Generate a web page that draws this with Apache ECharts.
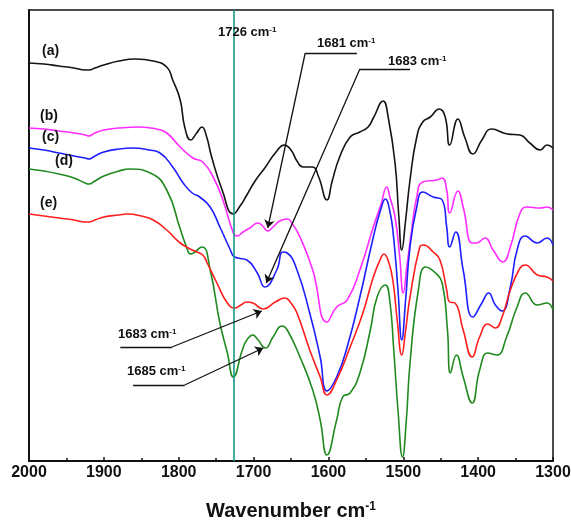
<!DOCTYPE html>
<html lang="en">
<head>
<meta charset="UTF-8">
<title>FTIR spectra</title>
<script src="https://cdn.jsdelivr.net/npm/echarts@6/dist/echarts.min.js"></script>
<style>
  body { margin: 0; background: #fff; }
  #chart { width: 571px; height: 523px; }
</style>
</head>
<body>
<div id="chart"></div>
<script>
// spectra: [wavenumber cm-1, transmittance (a.u., offset)]
var specA = [[2000,398],[1980,397],[1960,395],[1940,393],[1925,391],[1920,391],[1912,393],[1900,396],[1880,400],[1858,402],[1834,400],[1816,394],[1808,381],[1798,361],[1792,334],[1784,321],[1776,328],[1769,334],[1763,325],[1756,304],[1742,271],[1727,247],[1718,255],[1709,266],[1698,280],[1685,293],[1670,309],[1659,316],[1650,311],[1642,300],[1634,294],[1627,294],[1621,294],[1613,284],[1602,261],[1595,280],[1585,304],[1571,324],[1558,329],[1547,334],[1540,343],[1527,360],[1520,343],[1511,298],[1506,245],[1502,211],[1497,240],[1491,281],[1482,324],[1474,339],[1464,344],[1452,352],[1444,344],[1438,316],[1427,342],[1418,324],[1407,307],[1395,321],[1382,332],[1361,327],[1344,326],[1331,318],[1317,311],[1308,316],[1300,313]];
var specB = [[2000,333],[1980,332],[1960,330],[1940,328],[1925,326],[1920,325],[1912,328],[1900,331],[1880,333],[1852,334],[1830,332],[1816,328],[1798,314],[1781,303],[1768,299],[1754,284],[1741,261],[1727,228],[1722,225],[1714,229],[1705,233],[1694,238],[1688,235],[1681,230],[1674,234],[1665,240],[1655,242],[1648,237],[1638,224],[1621,191],[1602,139],[1589,154],[1575,161],[1558,191],[1540,234],[1530,256],[1522,274],[1518,264],[1511,244],[1505,206],[1500,168],[1495,196],[1490,224],[1482,264],[1474,279],[1455,281],[1448,283],[1442,271],[1438,248],[1427,270],[1420,254],[1408,218],[1402,218],[1391,223],[1380,211],[1367,199],[1357,214],[1344,248],[1335,254],[1317,253],[1308,254],[1300,251]];
var specC = [[2000,313],[1980,311],[1960,308],[1940,305],[1925,303],[1920,302],[1912,305],[1900,309],[1880,312],[1861,313],[1840,311],[1825,308],[1808,294],[1794,278],[1782,268],[1772,264],[1758,254],[1745,234],[1731,211],[1727,205],[1721,203],[1709,201],[1695,188],[1685,174],[1669,191],[1661,209],[1655,208],[1642,191],[1625,148],[1611,104],[1602,70],[1589,84],[1575,114],[1558,164],[1540,224],[1530,252],[1524,262],[1518,250],[1513,224],[1507,170],[1502,121],[1497,160],[1491,214],[1482,254],[1474,269],[1460,264],[1448,261],[1442,234],[1438,214],[1430,229],[1420,191],[1407,144],[1395,158],[1386,168],[1377,156],[1368,150],[1357,174],[1348,211],[1337,225],[1321,218],[1308,223],[1300,216]];
var specD = [[2000,292],[1980,290],[1960,287],[1940,283],[1925,278],[1920,277],[1912,280],[1900,285],[1880,290],[1865,292],[1838,288],[1816,271],[1798,232],[1790,215],[1784,207],[1769,214],[1758,191],[1745,138],[1735,108],[1727,84],[1715,111],[1709,121],[1701,126],[1695,122],[1684,113],[1674,124],[1662,135],[1655,131],[1638,104],[1621,71],[1611,41],[1602,6],[1589,41],[1581,64],[1571,68],[1558,88],[1544,131],[1535,164],[1524,176],[1518,160],[1513,114],[1507,50],[1501,4],[1496,40],[1491,98],[1480,170],[1470,194],[1457,188],[1448,178],[1441,131],[1437,88],[1429,106],[1420,84],[1408,58],[1398,91],[1387,108],[1375,106],[1362,124],[1348,154],[1337,168],[1321,156],[1308,158],[1300,151]];
var specE = [[2000,247],[1980,245],[1960,243],[1940,241],[1925,239],[1920,239],[1912,241],[1900,244],[1880,246],[1869,247],[1850,245],[1834,241],[1816,231],[1798,218],[1782,211],[1768,206],[1762,198],[1749,178],[1735,158],[1725,153],[1717,156],[1709,159],[1701,158],[1687,152],[1671,159],[1658,163],[1650,158],[1642,148],[1625,111],[1611,84],[1602,66],[1589,81],[1571,114],[1554,148],[1540,184],[1530,203],[1526,207],[1520,200],[1514,181],[1508,140],[1502,106],[1497,130],[1491,164],[1478,214],[1473,216],[1460,209],[1451,201],[1442,171],[1438,159],[1431,158],[1420,131],[1408,104],[1398,124],[1387,137],[1377,133],[1368,144],[1357,171],[1344,193],[1337,196],[1321,186],[1308,184],[1300,180]];

var curveNames = ['(a)', '(b)', '(c)', '(d)', '(e)'];
var curveColors = ['#141414', '#ff2bff', '#1e1eff', '#208a20', '#ff1e1e'];
var xTicks = [2000, 1900, 1800, 1700, 1600, 1500, 1400, 1300];
var markerLine = 1726;

// annotation arrows: horizontal bar [from, to] at y, diagonal from joint to tip
var arrows = [
  { text: '1681', bar: [1631, 1562], y: 408, joint: 1631, tip: [1681, 233] },
  { text: '1683', bar: [1558, 1491], y: 392, joint: 1558, tip: [1683, 178] },
  { text: '1683', bar: [1878, 1809], y: 114, joint: 1809, tip: [1689, 150] },
  { text: '1685', bar: [1861, 1792], y: 76, joint: 1792, tip: [1687, 113] }
];

var FONT = 'Arial, "Liberation Sans", sans-serif';
var chart = echarts.init(document.getElementById('chart'));

var markData = [
  [{ xAxis: markerLine, yAxis: 0, symbol: 'none', lineStyle: { color: '#16998a', width: 1.6 } },
   { xAxis: markerLine, yAxis: 451, symbol: 'none' }]
];
arrows.forEach(function (a) {
  markData.push([{ coord: [a.bar[0], a.y], symbol: 'none' }, { coord: [a.bar[1], a.y], symbol: 'none' }]);
  markData.push([{ coord: [a.joint, a.y], symbol: 'none' }, { coord: a.tip, symbol: 'arrow' }]);
});

var specs = [specA, specB, specC, specD, specE];
var series = specs.map(function (d, i) {
  var s = {
    name: curveNames[i],
    type: 'line',
    data: d,
    smooth: 0.5,
    showSymbol: false,
    lineStyle: { color: curveColors[i], width: 1.6 },
    itemStyle: { color: curveColors[i] },
    z: 2
  };
  if (i === 0) {
    s.markLine = {
      silent: true,
      symbol: ['none', 'arrow'],
      symbolSize: 8,
      label: { show: false },
      lineStyle: { color: '#111', width: 1.3, type: 'solid' },
      data: markData,
      z: 5
    };
  }
  return s;
});

function supText(main, size, supSize) {
  return {
    text: '{n|' + main + '}{s|-1}',
    rich: {
      n: { fontSize: size, fontWeight: 'bold', fontFamily: FONT, fill: '#111' },
      s: { fontSize: supSize, fontWeight: 'bold', fontFamily: FONT, fill: '#111', verticalAlign: 'top' }
    }
  };
}

var labels = [
  { t: '1726 cm', left: 218, top: 26 },
  { t: '1681 cm', left: 317, top: 37 },
  { t: '1683 cm', left: 388, top: 55 },
  { t: '1683 cm', left: 118, top: 328 },
  { t: '1685 cm', left: 127, top: 365 }
];
var tagPos = [[42, 44], [40, 109], [42, 130], [55, 154], [40, 196]];

var graphics = labels.map(function (l) {
  return { type: 'text', left: l.left, top: l.top, z: 10, style: supText(l.t, 13, 8) };
});
curveNames.forEach(function (n, i) {
  graphics.push({
    type: 'text', left: tagPos[i][0], top: tagPos[i][1], z: 10,
    style: { text: n, fontSize: 14, fontWeight: 'bold', fontFamily: FONT, fill: '#111' }
  });
});

chart.setOption({
  animation: false,
  backgroundColor: '#fff',
  grid: {
    left: 29, right: 18, top: 10, bottom: 62,
    outerBoundsMode: 'none',
    show: true, borderColor: '#111', borderWidth: 1.5
  },
  xAxis: {
    type: 'value',
    min: xTicks[xTicks.length - 1],
    max: xTicks[0],
    interval: 100,
    inverse: true,
    name: '{n|Wavenumber cm}{s|-1}',
    nameLocation: 'middle',
    nameGap: 40,
    nameTextStyle: {
      rich: {
        n: { fontSize: 20, fontWeight: 'bold', fontFamily: FONT, color: '#111' },
        s: { fontSize: 12, fontWeight: 'bold', fontFamily: FONT, color: '#111', verticalAlign: 'top' }
      }
    },
    axisLine: { onZero: false, lineStyle: { color: '#111', width: 2 } },
    axisTick: { inside: true, length: 4, lineStyle: { color: '#111', width: 1.5 } },
    minorTick: { show: true, splitNumber: 2, length: 3, lineStyle: { color: '#111', width: 1.5 } },
    splitLine: { show: false },
    axisLabel: {
      color: '#111', fontSize: 16, fontWeight: 'bold', fontFamily: FONT, margin: 4,
      formatter: function (v) { return String(v); }
    }
  },
  yAxis: {
    type: 'value',
    min: 0,
    max: 451,
    axisLine: { show: true, lineStyle: { color: '#111', width: 2 } },
    axisTick: { show: false },
    axisLabel: { show: false },
    splitLine: { show: false }
  },
  series: series,
  graphic: graphics
});
</script>
</body>
</html>
